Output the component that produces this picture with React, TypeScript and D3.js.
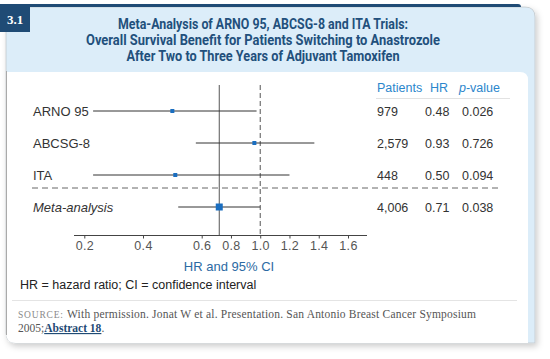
import React from "react";
import * as d3 from "d3";

// trial rows
const trials = ["ARNO 95", "ABCSG-8", "ITA", "Meta-analysis"];
const patients = ["979", "2,579", "448", "4,006"];
const hrLabels = ["0.48", "0.93", "0.50", "0.71"];
const pValues = ["0.026", "0.726", "0.094", "0.038"];
// marker positions and CI ends
const hrPlot = [0.5, 0.96, 0.51, 0.72];
const ciLow = [0.23, 0.58, 0.23, 0.52];
const ciHigh = [0.975, 1.37, 1.2, 1.0];
const tickValues = [0.2, 0.4, 0.6, 0.8, 1.0, 1.2, 1.4, 1.6];

const titleLines = [
  "Meta-Analysis of ARNO 95, ABCSG-8 and ITA Trials:",
  "Overall Survival Benefit for Patients Switching to Anastrozole",
  "After Two to Three Years of Adjuvant Tamoxifen",
];
const titleWidths = [290, 354, 273];

const navy = "#1f4b75";
const lightBlue = "#dcedf9";
const sans = "'Liberation Sans', Arial, sans-serif";

const App = () => {
  // the axis is not uniform: 0.2-0.6 is stretched
  const x = d3.scaleLinear().domain([0.2, 0.6, 1.6]).range([84.3, 201.7, 348]);
  const y = d3.scalePoint<string>().domain(trials).range([111, 207]);
  const axisY = 235.5;
  const topY = 85;

  const axisRef = React.useRef<SVGGElement>(null);
  React.useEffect(() => {
    if (!axisRef.current) return;
    const g = d3.select(axisRef.current);
    g.selectAll("*").remove();
    g.call(
      d3
        .axisBottom(x)
        .tickValues(tickValues)
        .tickSize(3)
        .tickPadding(3)
        .tickFormat(d3.format(".1f"))
    );
    g.select(".domain").remove();
    g.selectAll(".tick line").attr("stroke", "#444");
    g.selectAll(".tick text")
      .attr("fill", "#555")
      .style("font-family", sans)
      .style("font-size", "12.5px")
      .style("letter-spacing", "0.3px");
  }, []);

  return (
    <svg
      width={550}
      height={359}
      style={{ position: "fixed", top: 0, left: 0, background: "#fff" }}
    >
      <defs>
        <filter id="shadow" x="-5%" y="-5%" width="115%" height="115%">
          <feDropShadow dx="2" dy="3" stdDeviation="3" floodColor="#000" floodOpacity="0.2" />
        </filter>
      </defs>

      {/* card */}
      <path
        d="M6,7 H525 Q535,7 535,17 V343 H16 Q6,343 6,333 Z"
        fill={lightBlue}
        stroke="#c2c8cc"
        strokeWidth={0.8}
        filter="url(#shadow)"
      />
      <path d="M6,72 H520 Q528,72 528,80 V343 H16 Q6,343 6,333 Z" fill="#fff" />
      <line x1={6.5} x2={6.5} y1={71} y2={335} stroke="#aaa" strokeWidth={1} />
      <path d="M0,4 H518 Q521,4 521,7 H0 Z" fill={navy} />
      <rect x={0} y={6} width={30} height={26} fill={navy} />
      <text
        x={15}
        y={24}
        textAnchor="middle"
        fill="#fff"
        fontFamily="'Liberation Serif', serif"
        fontWeight="bold"
        fontSize={13}
      >
        3.1
      </text>

      {/* title */}
      {titleLines.map((t, i) => (
        <text
          key={i}
          x={263 - titleWidths[i] / 2}
          y={29 + i * 16}
          fill="#22507c"
          fontFamily="Roboto, 'DejaVu Sans Condensed', sans-serif"
          fontWeight={700}
          fontSize={14.5}
          textLength={titleWidths[i]}
          lengthAdjust="spacingAndGlyphs"
        >
          {t}
        </text>
      ))}

      {/* reference lines */}
      <line x1={x(hrPlot[3])} x2={x(hrPlot[3])} y1={topY} y2={axisY} stroke="#555" strokeWidth={1} />
      <line
        x1={x(1)}
        x2={x(1)}
        y1={topY}
        y2={axisY}
        stroke="#555"
        strokeWidth={1}
        strokeDasharray="5,3"
      />
      <line x1={74} x2={367} y1={axisY} y2={axisY} stroke="#444" strokeWidth={1} />
      <g ref={axisRef} transform={`translate(0,${axisY})`} />

      {/* separator */}
      <line
        x1={32}
        x2={499}
        y1={188}
        y2={188}
        stroke="#666"
        strokeWidth={1}
        strokeDasharray="6,4"
      />

      {/* table header */}
      <g fontFamily={sans} fontSize={12.5} fill="#2b86cc">
        <text x={377} y={92}>Patients</text>
        <text x={430} y={92}>HR</text>
        <text x={459} y={92}>
          <tspan fontStyle="italic">p</tspan>-value
        </text>
      </g>
      <line x1={376} x2={510} y1={98.5} y2={98.5} stroke="#e2e2e2" strokeWidth={1} />

      {trials.map((t, i) => {
        const cy = y(t) as number;
        const meta = i === trials.length - 1;
        const s = meta ? 7 : 4;
        return (
          <g key={t}>
            <text
              x={33}
              y={cy + 4.5}
              fontFamily={sans}
              fontSize={13}
              fontStyle={meta ? "italic" : "normal"}
              fill="#333"
            >
              {t}
            </text>
            <line x1={x(ciLow[i])} x2={x(ciHigh[i])} y1={cy} y2={cy} stroke="#333" strokeWidth={1} />
            <rect x={x(hrPlot[i]) - s / 2} y={cy - s / 2} width={s} height={s} fill="#1a6ec0" />
            <g fontFamily={sans} fontSize={12.5} fill="#333">
              <text x={377} y={cy + 4.5}>{patients[i]}</text>
              <text x={425} y={cy + 4.5}>{hrLabels[i]}</text>
              <text x={462} y={cy + 4.5}>{pValues[i]}</text>
            </g>
          </g>
        );
      })}

      <text x={229} y={271} textAnchor="middle" fontFamily={sans} fontSize={13} fill="#2c6aa3">
        HR and 95% CI
      </text>
      <text x={20} y={289} fontFamily={sans} fontSize={12.5} fill="#222">
        HR = hazard ratio; CI = confidence interval
      </text>

      <line x1={12} x2={517} y1={300.5} y2={300.5} stroke="#e4e4e4" strokeWidth={1} />
      <g fontFamily="'Liberation Serif', serif" fontSize={11.5} fill="#555">
        <text x={18} y={318} fill="#8a8a8a" fontSize={9.5} letterSpacing={0.8}>
          SOURCE:
        </text>
        <text x={67} y={318} textLength={409} lengthAdjust="spacing">
          With permission. Jonat W et al. Presentation. San Antonio Breast Cancer Symposium
        </text>
        <text x={18} y={332}>
          2005;
          <tspan fill={navy} fontWeight="bold" textDecoration="underline">Abstract 18</tspan>.
        </text>
      </g>
    </svg>
  );
};

export default App;
